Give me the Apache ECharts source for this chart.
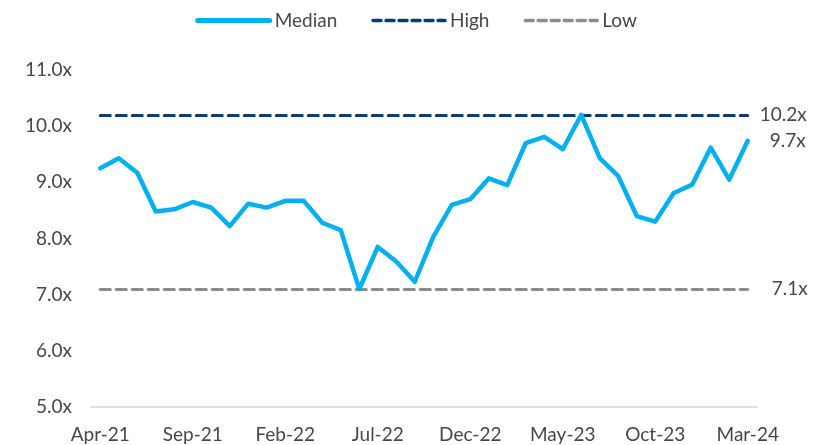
<!DOCTYPE html>
<html>
<head>
<meta charset="utf-8">
<script src="https://cdn.jsdelivr.net/npm/echarts@6/dist/echarts.min.js"></script>
<style>html,body{margin:0;padding:0;background:#fff;}#c{width:832px;height:445px;}</style>
</head>
<body>
<div id="c"></div>
<script>
const categories = ['Apr-21','May-21','Jun-21','Jul-21','Aug-21','Sep-21','Oct-21','Nov-21','Dec-21','Jan-22','Feb-22','Mar-22','Apr-22','May-22','Jun-22','Jul-22','Aug-22','Sep-22','Oct-22','Nov-22','Dec-22','Jan-23','Feb-23','Mar-23','Apr-23','May-23','Jun-23','Jul-23','Aug-23','Sep-23','Oct-23','Nov-23','Dec-23','Jan-24','Feb-24','Mar-24'];
const medianValues = [9.25,9.43,9.17,8.48,8.52,8.65,8.55,8.22,8.62,8.55,8.67,8.67,8.28,8.15,7.1,7.85,7.59,7.23,8.03,8.6,8.70,9.07,8.95,9.70,9.81,9.59,10.2,9.43,9.11,8.40,8.30,8.81,8.96,9.62,9.05,9.74];
const highValue = 10.2;
const lowValue = 7.1;
const yTicks = [5,6,7,8,9,10,11];

const FONT = "'Century Gothic','Lato',sans-serif";
const TXT = '#474747';
const FS = 19;
const chart = echarts.init(document.getElementById('c'));
function hLine(v, dist){
  return {
    silent: true, symbol: 'none',
    label: {show: true, position: 'end', formatter: v.toFixed(1)+'x', fontSize: FS, color: TXT, fontFamily: FONT, distance: dist},
    data: [[{coord: [categories[0], v]}, {coord: [categories[categories.length-1], v]}]]
  };
}
chart.setOption({
  animation: false,
  textStyle: {fontFamily: FONT, color: TXT},
  legend: {
    top: 6, left: 'center', itemWidth: 72, itemHeight: 14, itemGap: 34,
    itemStyle: {opacity: 0},
    textStyle: {fontSize: FS, color: TXT, fontFamily: FONT},
    data: [
      {name: 'Median', lineStyle: {width: 5, cap: 'round'}},
      {name: 'High', lineStyle: {width: 3.5, type: [8, 5], cap: 'round'}},
      {name: 'Low', lineStyle: {width: 3.5, type: [8, 5], cap: 'round'}}
    ]
  },
  grid: {left: 91, right: 75, top: 70, bottom: 38},
  xAxis: {
    type: 'category', data: categories, boundaryGap: true,
    axisLine: {lineStyle: {color: '#D6E0F0', width: 2}},
    axisTick: {show: false},
    axisLabel: {interval: 4, fontSize: FS, color: TXT, fontFamily: FONT, margin: 18}
  },
  yAxis: {
    type: 'value', min: yTicks[0], max: yTicks[yTicks.length-1], interval: 1,
    splitLine: {show: false}, axisLine: {show: false}, axisTick: {show: false},
    axisLabel: {fontSize: FS, color: TXT, fontFamily: FONT, margin: 19, formatter: v => v.toFixed(1)+'x'}
  },
  series: [
    {
      name: 'Median', type: 'line', data: medianValues, showSymbol: false, symbol: 'none',
      lineStyle: {color: '#00B0F0', width: 4.5, cap: 'round', join: 'round'},
      itemStyle: {color: '#00B0F0'}, z: 5,
      endLabel: {show: true, formatter: p => p.value.toFixed(1)+'x', fontSize: FS, color: TXT, fontFamily: FONT, distance: 22}
    },
    {
      name: 'High', type: 'line', data: [], symbol: 'none',
      lineStyle: {color: '#0B3A6E', width: 3, type: [10, 6], cap: 'round'},
      itemStyle: {color: '#0B3A6E'},
      markLine: Object.assign(hLine(highValue, 12), {lineStyle: {color: '#0B3A6E', width: 3, type: [10, 6], cap: 'round'}})
    },
    {
      name: 'Low', type: 'line', data: [], symbol: 'none',
      lineStyle: {color: '#8C8C8C', width: 3, type: [10, 6], cap: 'round'},
      itemStyle: {color: '#8C8C8C'},
      markLine: Object.assign(hLine(lowValue, 24), {lineStyle: {color: '#8C8C8C', width: 3, type: [10, 6], cap: 'round'}})
    }
  ]
});
</script>
</body>
</html>
